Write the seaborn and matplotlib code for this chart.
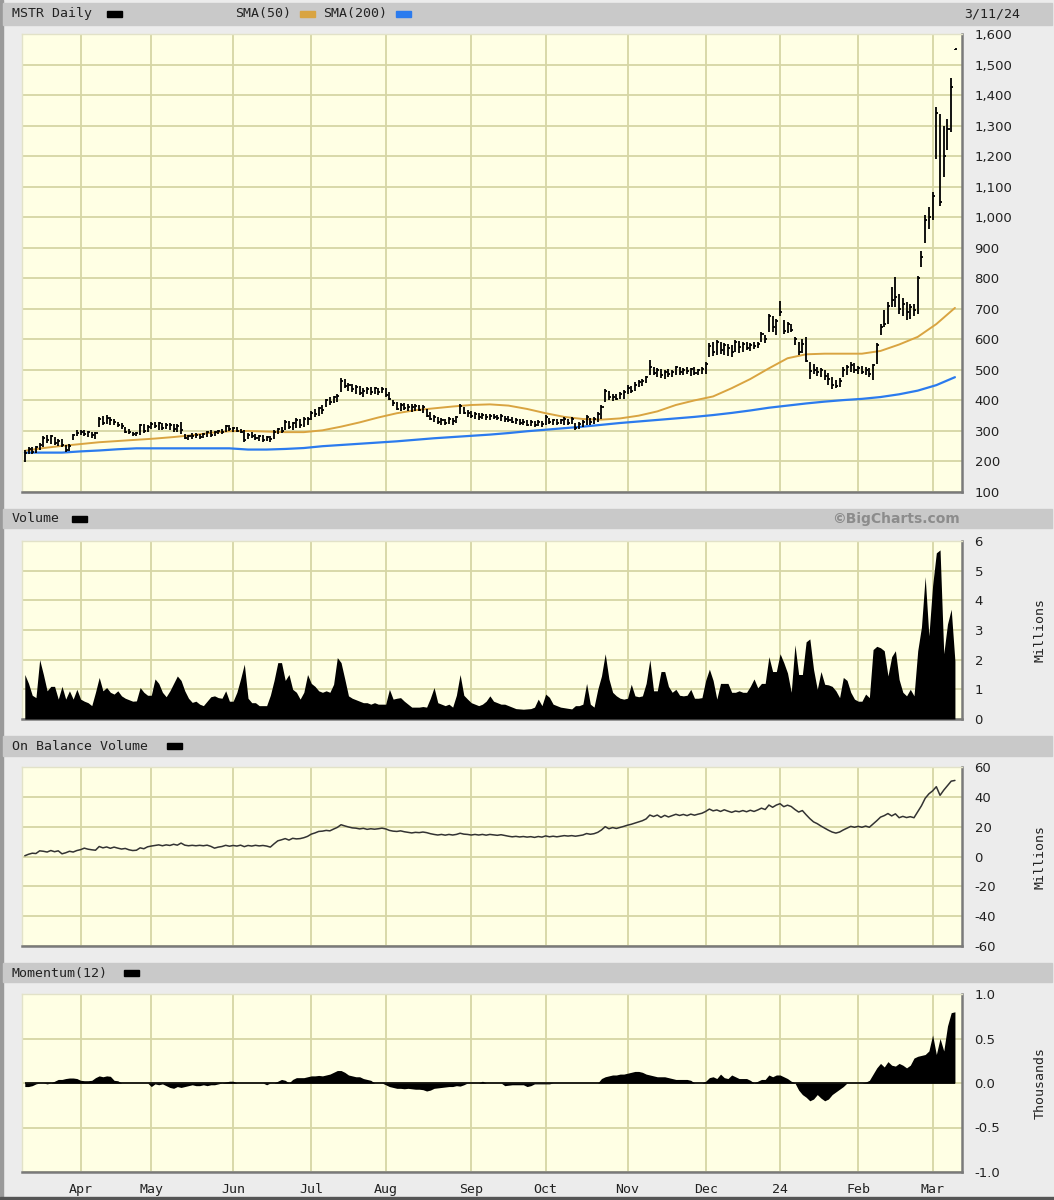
"""MSTR daily chart (BigCharts style): price bars with SMAs, volume,
on balance volume and 12-day momentum."""

import matplotlib
matplotlib.use("Agg")
import matplotlib.pyplot as plt
import numpy as np
import pandas as pd
import seaborn as sns
from matplotlib.patches import Rectangle
from matplotlib.ticker import FuncFormatter

sns.set_style("white")
plt.rcParams["font.family"] = ["DejaVu Sans"]

# ---------------------------------------------------------------- data
holidays = ["2023-04-07", "2023-05-29", "2023-06-19", "2023-07-04", "2023-09-04",
            "2023-11-23", "2023-12-25", "2024-01-01", "2024-01-15", "2024-02-19"]

bar_low = [
    199, 224, 226, 229, 238, 248, 262, 258, 253, 250, 248, 231, 234, 269, 285,  # Mar
    286, 282, 280, 277, 275, 313, 318, 322, 320, 318, 313, 305, 293, 290, 283, 284, 286, 292, 298,  # Apr
    307, 309, 304, 302, 306, 303, 298, 296, 291, 272, 269, 275, 276, 275, 277, 279, 281, 283, 291, 290, 297, 300,  # May
    297, 298, 292, 264, 272, 278, 270, 266, 264, 268, 265, 275, 290, 294, 302, 305, 303, 311, 309, 313, 318,  # Jun
    335, 345, 350, 355, 378, 384, 390, 395, 427, 440, 430, 427, 422, 418, 411, 420, 418, 422, 419, 424,  # Jul
    410, 400, 382, 367, 365, 368, 366, 362, 365, 364, 360, 345, 335, 328, 322, 320, 318, 322, 320, 326, 356, 355, 345,  # Aug
    342, 340, 337, 338, 336, 335, 338, 335, 333, 330, 328, 325, 322, 320, 318, 315, 317, 313, 315, 314,  # Sep
    318, 322, 320, 318, 322, 320, 318, 324, 302, 305, 313, 318, 320, 322, 328, 340, 395, 400, 398, 400, 405, 406,  # Oct
    422, 425, 432, 444, 446, 458, 482, 484, 476, 474, 471, 478, 476, 482, 484, 482, 486, 480, 484, 482, 485,  # Nov
    487, 542, 545, 548, 553, 550, 545, 543, 559, 556, 560, 564, 562, 568, 570, 591, 587, 624, 624, 613,  # Dec
    678, 618, 620, 624, 580, 548, 555, 526, 471, 487, 480, 476, 466, 450, 438, 440, 444, 476, 484, 493, 490,  # Jan
    485, 488, 482, 476, 466, 520, 613, 640, 651, 705, 705, 684, 678, 662, 668, 678, 684, 836, 915, 960,  # Feb
    990, 1190, 1038, 1131, 1220, 1278, 1548,  # Mar
]
bar_high = [
    237, 246, 248, 250, 262, 283, 288, 286, 280, 275, 272, 253, 256, 291, 302,
    302, 303, 301, 297, 296, 346, 349, 351, 346, 340, 329, 326, 313, 306, 297, 296, 322, 324, 320,
    329, 328, 329, 326, 327, 325, 324, 322, 329, 291, 288, 293, 292, 290, 293, 300, 302, 300, 304, 305, 319, 318,
    313, 312, 306, 302, 292, 298, 291, 287, 286, 283, 282, 302, 310, 313, 335, 332, 330, 342, 340, 345, 344,
    365, 372, 378, 384, 405, 410, 416, 420, 473, 470, 458, 455, 449, 446, 440, 444, 443, 445, 441, 444,
    440, 428, 402, 395, 390, 392, 389, 387, 389, 386, 384, 372, 362, 352, 346, 343, 340, 345, 343, 348, 389, 378, 368,
    364, 362, 360, 358, 356, 357, 356, 353, 355, 350, 348, 344, 341, 340, 338, 335, 336, 333, 335, 334,
    351, 342, 340, 338, 340, 345, 338, 345, 325, 328, 335, 351, 342, 346, 362, 384, 438, 432, 420, 422, 428, 433,
    449, 447, 460, 468, 471, 480, 531, 509, 505, 502, 498, 504, 500, 514, 510, 506, 509, 505, 508, 504, 509,
    525, 587, 590, 597, 592, 588, 585, 583, 597, 594, 592, 591, 588, 590, 591, 624, 613, 684, 678, 667,
    727, 662, 658, 651, 607, 591, 600, 607, 526, 520, 510, 505, 498, 490, 476, 468, 472, 509, 515, 525, 522,
    514, 512, 508, 505, 520, 587, 651, 695, 722, 771, 804, 749, 735, 722, 716, 716, 809, 890, 1006, 1035,
    1082, 1360, 1338, 1300, 1320, 1455, 1552,
]
bar_close = [
    228, 240, 232, 246, 255, 278, 270, 282, 262, 268, 255, 238, 250, 286, 293,
    295, 290, 298, 286, 292, 338, 325, 343, 336, 330, 320, 316, 298, 296, 290, 293, 318, 300, 314,
    322, 316, 325, 308, 318, 320, 305, 316, 303, 278, 284, 282, 288, 280, 290, 296, 286, 298, 300, 296, 315, 306,
    310, 300, 298, 270, 288, 284, 276, 282, 270, 279, 275, 296, 306, 300, 330, 312, 326, 336, 318, 339, 340,
    360, 354, 375, 370, 400, 395, 412, 415, 462, 448, 452, 436, 444, 425, 432, 438, 428, 440, 428, 436,
    418, 405, 390, 372, 384, 375, 380, 378, 383, 370, 378, 350, 340, 345, 328, 336, 325, 340, 332, 345, 382, 360, 358,
    350, 355, 345, 352, 344, 350, 346, 342, 348, 338, 336, 330, 335, 326, 330, 320, 328, 318, 328, 322,
    345, 328, 335, 325, 336, 340, 326, 338, 310, 322, 330, 345, 330, 340, 356, 378, 430, 410, 412, 405, 420, 428,
    440, 430, 452, 460, 462, 476, 510, 490, 498, 482, 492, 486, 494, 508, 492, 500, 496, 502, 490, 498, 502,
    520, 578, 560, 590, 565, 580, 572, 558, 590, 575, 585, 570, 582, 578, 585, 618, 600, 676, 640, 660,
    690, 628, 650, 632, 600, 560, 585, 530, 495, 500, 492, 498, 480, 470, 452, 446, 462, 500, 508, 515, 498,
    505, 492, 498, 485, 515, 580, 640, 650, 710, 730, 740, 700, 715, 690, 705, 695, 800, 870, 990, 1000,
    1070, 1340, 1050, 1200, 1290, 1425, 1550,
]

# moving averages, one reading every fifth session
sma_step = 5
sma50 = [235, 244, 251, 257, 263, 267, 271, 275, 280, 286, 294, 299, 300, 298, 296, 296, 302,
         314, 328, 344, 358, 368, 374, 380, 385, 387, 383, 372, 358, 346, 339, 337, 341, 350,
         364, 385, 400, 413, 440, 470, 505, 538, 551, 553, 553, 553, 562, 583, 608, 650, 703]
sma200 = [229, 229, 229, 233, 236, 240, 243, 243, 243, 243, 243, 243, 239, 239, 241, 244, 250,
          254, 258, 262, 266, 271, 276, 280, 284, 288, 293, 299, 304, 309, 314, 320, 326, 331,
          336, 341, 346, 352, 359, 367, 376, 383, 390, 396, 401, 405, 411, 420, 432, 450, 476]

volume_m = [
    1.5, 1.2, 0.8, 0.72, 2.0, 1.5, 0.95, 1.1, 1.1, 0.67, 1.1, 0.67, 0.95, 0.67, 1.0,
    0.67, 0.6, 0.55, 0.45, 0.9, 1.4, 0.95, 1.06, 0.9, 0.84, 0.95, 0.78, 0.7, 0.65, 0.6, 0.61, 1.06, 0.9, 0.8,
    0.8, 1.35, 1.2, 0.9, 0.75, 0.95, 1.2, 1.45, 1.3, 0.95, 0.7, 0.56, 0.6, 0.5, 0.45, 0.6, 0.75, 0.78, 0.72, 0.7, 0.95, 0.6,
    0.6, 0.9, 1.35, 1.85, 0.7, 0.55, 0.55, 0.45, 0.45, 0.45, 0.8, 1.3, 1.9, 1.9, 1.3, 1.5, 1.0, 0.9, 0.67, 0.9, 1.5,
    1.2, 1.1, 0.95, 0.9, 0.95, 0.9, 1.17, 2.07, 1.9, 1.35, 0.78, 0.7, 0.65, 0.6, 0.55, 0.55, 0.5, 0.55, 0.5, 0.5,
    0.5, 1.0, 0.67, 0.7, 0.72, 0.6, 0.5, 0.4, 0.4, 0.4, 0.42, 0.4, 0.7, 1.06, 0.55, 0.5, 0.45, 0.5, 0.4, 0.8, 1.5, 0.8, 0.67,
    0.55, 0.5, 0.45, 0.5, 0.6, 0.78, 0.6, 0.55, 0.5, 0.5, 0.45, 0.4, 0.35, 0.34, 0.33, 0.34, 0.35, 0.4, 0.67, 0.45,
    0.84, 0.73, 0.5, 0.45, 0.4, 0.38, 0.36, 0.34, 0.45, 0.45, 0.5, 1.2, 0.5, 0.4, 1.0, 1.45, 2.2, 1.35, 0.9, 0.78, 0.7, 0.67,
    0.7, 1.17, 0.78, 0.75, 0.78, 1.2, 2.0, 0.95, 0.95, 1.6, 1.6, 1.1, 0.9, 1.0, 0.8, 0.78, 0.8, 1.0, 0.7, 0.7, 0.72,
    1.3, 1.68, 1.3, 0.67, 1.2, 1.2, 1.2, 0.9, 0.9, 0.95, 0.9, 0.9, 1.1, 1.35, 1.05, 1.2, 1.2, 2.1, 1.6, 1.6,
    2.2, 1.9, 1.55, 0.9, 2.5, 1.5, 1.5, 2.6, 2.7, 1.67, 1.0, 1.6, 1.17, 1.15, 1.1, 0.95, 0.72, 1.4, 1.3, 0.9, 0.67,
    0.6, 0.6, 0.84, 0.72, 2.34, 2.45, 2.4, 2.3, 1.45, 2.1, 2.3, 1.33, 0.9, 0.78, 1.0, 0.78, 2.3, 3.1, 4.8, 2.8,
    4.5, 5.6, 5.7, 2.2, 3.2, 3.7, 1.95,
]

obv_m = [
    0.5, 1.5, 2.2, 2.0, 3.8, 3.5, 3.0, 4.0, 3.2, 3.8, 1.8, 2.5, 3.5, 3.0, 4.0,
    4.6, 5.6, 4.9, 4.5, 4.2, 6.7, 5.8, 6.4, 5.5, 6.3, 5.6, 5.0, 5.4, 4.5, 4.0, 4.2, 5.8, 5.2, 6.5,
    7.0, 7.4, 7.8, 7.2, 7.8, 7.4, 8.2, 7.6, 9.0, 7.6, 7.2, 7.5, 7.2, 7.5, 7.2, 7.6, 6.8, 5.6, 6.3, 6.7, 7.5, 6.9,
    7.4, 7.0, 7.6, 6.6, 7.4, 7.0, 7.5, 7.1, 7.4, 7.0, 6.3, 8.5, 10.5, 11.2, 12.0, 11.0, 12.2, 11.8, 12.0, 12.6, 13.5,
    15.0, 15.8, 16.8, 17.0, 17.5, 17.2, 18.4, 19.5, 21.3, 20.5, 19.8, 19.2, 19.0, 18.5, 18.9, 18.2, 18.6, 18.3, 18.6, 19.0,
    18.5, 17.5, 17.0, 16.8, 17.2, 16.6, 16.2, 15.8, 16.2, 16.0, 16.4, 16.0, 15.3, 14.8, 14.4, 14.8, 14.3, 14.8, 14.4, 14.8, 15.6, 15.0, 14.8,
    14.4, 14.8, 14.4, 14.8, 14.3, 14.8, 14.5, 14.2, 14.6, 14.1, 13.6, 13.2, 13.5, 13.1, 13.4, 13.0, 13.3, 12.8, 13.4, 13.0,
    13.8, 13.2, 13.6, 13.2, 13.6, 14.0, 13.7, 14.0, 13.6, 14.0, 14.4, 15.4, 14.9, 15.3, 16.2, 17.8, 20.0, 18.6, 19.4, 18.8, 19.5, 20.2,
    21.0, 21.6, 22.4, 23.2, 24.0, 25.2, 27.8, 26.8, 27.8, 26.2, 27.6, 26.5, 27.4, 28.3, 27.5, 28.2, 27.4, 28.4, 27.7, 28.4, 29.0,
    30.2, 31.8, 30.6, 31.2, 30.2, 31.3, 30.4, 29.6, 30.5, 30.0, 30.8, 30.0, 31.0, 30.2, 31.2, 32.4, 31.5, 34.5, 33.0, 34.5,
    35.4, 33.4, 34.4, 33.5, 31.5, 29.8, 30.8, 28.0, 25.4, 23.2, 22.0, 20.4, 19.0, 17.6, 16.4, 15.7, 16.4, 17.8, 19.0, 20.2, 19.6,
    20.2, 19.6, 20.4, 19.6, 21.8, 24.0, 26.4, 27.4, 28.8, 27.2, 28.6, 26.0, 26.9, 26.1, 26.7, 26.0, 30.0, 34.0, 39.0, 42.0,
    44.0, 46.8, 41.0, 44.5, 47.5, 50.5, 51.0,
]

momentum_k = [
    -0.04, -0.04, -0.03, -0.01, 0.0, 0.0, -0.01, 0.0, 0.02, 0.04, 0.04, 0.05, 0.056, 0.056, 0.05,
    0.03, 0.026, 0.026, 0.03, 0.06, 0.08, 0.07, 0.08, 0.075, 0.03, 0.025, 0.0, 0.0, 0.0, 0.0, 0.0, 0.0, 0.0, 0.0,
    -0.04, -0.01, -0.02, -0.01, -0.03, -0.05, -0.06, -0.04, -0.05, -0.04, -0.03, -0.02, -0.03, -0.03, -0.02, -0.03,
    -0.02, -0.02, -0.01, 0.0, 0.01, 0.02,
    0.02, 0.0, 0.0, 0.0, 0.0, 0.0, 0.0, 0.0, 0.0, -0.02, 0.0, 0.0, 0.02, 0.04, 0.03, 0.0, 0.04, 0.06, 0.06, 0.06, 0.07,
    0.08, 0.08, 0.085, 0.08, 0.09, 0.1, 0.12, 0.14, 0.14, 0.12, 0.09, 0.08, 0.07, 0.07, 0.05, 0.04, 0.03, 0.0, 0.0, 0.0,
    -0.02, -0.04, -0.05, -0.06, -0.06, -0.065, -0.06, -0.065, -0.07, -0.07, -0.075, -0.09, -0.08, -0.06, -0.055,
    -0.05, -0.045, -0.04, -0.04, -0.03, -0.035, -0.02, 0.0,
    0.0, 0.0, 0.0, 0.02, 0.0, 0.0, 0.0, 0.0, 0.0, -0.03, -0.025, -0.02, -0.02, -0.02, -0.02, -0.04, -0.03, -0.01, -0.01, -0.01,
    -0.01, -0.01, 0.0, 0.0, 0.0, 0.0, 0.0, 0.0, 0.0, 0.0, 0.0, 0.0, 0.0, 0.0, 0.0, 0.05, 0.07, 0.08, 0.09, 0.09, 0.1, 0.1,
    0.11, 0.12, 0.13, 0.13, 0.12, 0.1, 0.09, 0.08, 0.07, 0.07, 0.07, 0.06, 0.05, 0.04, 0.04, 0.04, 0.04, 0.03, 0.0, 0.0, 0.0,
    0.02, 0.06, 0.07, 0.05, 0.1, 0.06, 0.05, 0.09, 0.07, 0.05, 0.05, 0.05, 0.03, 0.0, 0.02, 0.04, 0.04, 0.09, 0.07, 0.09,
    0.09, 0.07, 0.05, 0.02, 0.0, -0.08, -0.13, -0.16, -0.2, -0.18, -0.13, -0.17, -0.2, -0.18, -0.13, -0.1, -0.07,
    -0.04, 0.0, 0.0, 0.0,
    0.0, 0.0, 0.01, 0.03, 0.1, 0.17, 0.22, 0.18, 0.24, 0.2, 0.19, 0.22, 0.2, 0.17, 0.2, 0.28, 0.3, 0.31, 0.32, 0.36,
    0.54, 0.32, 0.5, 0.36, 0.64, 0.79, 0.8,
]

price_ticks = list(range(100, 1700, 100))
volume_ticks = [0, 1, 2, 3, 4, 5, 6]
obv_ticks = [-60, -40, -20, 0, 20, 40, 60]
momentum_ticks = [-1.0, -0.5, 0.0, 0.5, 1.0]

# ---------------------------------------------------------------- style
FIG_BG = "#ECECEC"
HEADER_BG = "#C9C9C9"
PLOT_BG = "#FFFFE4"
GRID = "#D6D6A4"
SMA50_COLOR = "#D9A441"
SMA200_COLOR = "#2B7BEE"
MONO = "DejaVu Sans Mono"

W, H = 1054, 1200
trade_days = pd.bdate_range("2023-03-13", "2024-03-11", freq="C", holidays=holidays)
n = min(len(trade_days), len(bar_close))
idx = np.arange(n)
months = trade_days[:n].to_period("M")
month_pos = [i for i in range(1, n) if months[i] != months[i - 1]]
month_lbl = ["24" if trade_days[i].month == 1 else trade_days[i].strftime("%b") for i in month_pos]
XLIM = (-0.75, n + 0.9)


def box(x0, y0, x1, y1):
    return [x0 / W, 1 - y1 / H, (x1 - x0) / W, (y1 - y0) / H]


def header(fig, y0, y1):
    fig.patches.append(Rectangle((3 / W, 1 - y1 / H), 1049 / W, (y1 - y0) / H,
                                 transform=fig.transFigure, color=HEADER_BG, zorder=0))


def swatch(fig, x, yc, color):
    fig.patches.append(Rectangle((x / W, 1 - (yc + 3) / H), 15 / W, 6 / H,
                                 transform=fig.transFigure, color=color, zorder=2))


def label(fig, x, yc, text, **kw):
    kw.setdefault("family", MONO)
    kw.setdefault("fontsize", 9.5)
    fig.text(x / W, 1 - yc / H, text, va="center", color="#222222", **kw)


def style_panel(ax, yticks, ylim, fmt):
    ax.set_facecolor(PLOT_BG)
    ax.set_xlim(*XLIM)
    ax.set_ylim(*ylim)
    ax.set_xticks(month_pos)
    ax.set_xticklabels([])
    ax.set_yticks(yticks)
    ax.yaxis.set_major_formatter(FuncFormatter(fmt))
    ax.yaxis.tick_right()
    ax.tick_params(axis="both", length=0, pad=9, labelsize=9.5, labelcolor="#222222")
    ax.grid(True, color=GRID, lw=1.3)
    ax.set_axisbelow(True)
    ax.set_xlabel("")
    ax.set_ylabel("")
    for side in ("top", "left"):
        ax.spines[side].set_color("#E2E2C8")
        ax.spines[side].set_linewidth(1.0)
    for side in ("bottom", "right"):
        ax.spines[side].set_color("#7A7A7A")
        ax.spines[side].set_linewidth(1.8)


fig = plt.figure(figsize=(W / 100, H / 100), dpi=100, facecolor=FIG_BG)

# outer frame
fig.patches.append(Rectangle((0, 0), 3 / W, 1, transform=fig.transFigure, color="#9A9A9A", zorder=0))
fig.patches.append(Rectangle((0, 0), 1, 3 / H, transform=fig.transFigure, color="#555555", zorder=0))

# ---------------------------------------------------------------- price
ax_p = fig.add_axes(box(22, 34, 962, 492))
sma_x = np.arange(0, sma_step * len(sma50), sma_step)
sns.lineplot(x=sma_x, y=sma200, ax=ax_p, color=SMA200_COLOR, lw=1.6, zorder=2)
sns.lineplot(x=sma_x, y=sma50, ax=ax_p, color=SMA50_COLOR, lw=1.4, zorder=2)
ax_p.vlines(idx, bar_low[:n], bar_high[:n], color="black", lw=1.3, zorder=3)
ax_p.hlines(bar_close[:n], idx, idx + 0.55, color="black", lw=1.3, zorder=3)
style_panel(ax_p, price_ticks, (100, 1600), lambda v, _: f"{v:,.0f}")

header(fig, 3, 25)
label(fig, 12, 14, "MSTR Daily")
swatch(fig, 107, 14, "black")
label(fig, 235, 14, "SMA(50)")
swatch(fig, 300, 14, SMA50_COLOR)
label(fig, 323, 14, "SMA(200)")
swatch(fig, 396, 14, SMA200_COLOR)
label(fig, 1020, 14, "3/11/24", ha="right")

# ---------------------------------------------------------------- volume
ax_v = fig.add_axes(box(22, 541, 962, 719))
ax_v.fill_between(idx, volume_m[:n], 0, color="black", lw=0, zorder=3)
style_panel(ax_v, volume_ticks, (0, 6), lambda v, _: f"{v:.0f}")

header(fig, 509, 528)
label(fig, 12, 519, "Volume")
swatch(fig, 72, 519, "black")
fig.text(960 / W, 1 - 519 / H, "\u00a9BigCharts.com", ha="right", va="center",
         fontsize=10, fontweight="bold", color="#8C8C8C")
label(fig, 1040, 630, "Millions", rotation=90, ha="center", fontsize=9.5)

# ---------------------------------------------------------------- on balance volume
ax_o = fig.add_axes(box(22, 767, 962, 946))
sns.lineplot(x=idx, y=obv_m[:n], ax=ax_o, color="#333333", lw=1.1, zorder=3)
style_panel(ax_o, obv_ticks, (-60, 60), lambda v, _: f"{v:.0f}")

header(fig, 736, 756)
label(fig, 12, 746, "On Balance Volume")
swatch(fig, 167, 746, "black")
label(fig, 1040, 857, "Millions", rotation=90, ha="center", fontsize=9.5)

# ---------------------------------------------------------------- momentum
ax_m = fig.add_axes(box(22, 994, 962, 1172))
ax_m.fill_between(idx, momentum_k[:n], 0, color="black", lw=0, zorder=3)
ax_m.hlines(0, 0, n - 1, color="black", lw=1.2, zorder=3)
style_panel(ax_m, momentum_ticks, (-1.0, 1.0), lambda v, _: f"{v:.1f}")
ax_m.set_xticklabels(month_lbl, family=MONO, fontsize=9.5)
ax_m.tick_params(axis="x", pad=8)

header(fig, 963, 982)
label(fig, 12, 973, "Momentum(12)")
swatch(fig, 124, 973, "black")
label(fig, 1040, 1083, "Thousands", rotation=90, ha="center", fontsize=9.5)

fig.savefig("out.png", dpi=100, facecolor=FIG_BG)
